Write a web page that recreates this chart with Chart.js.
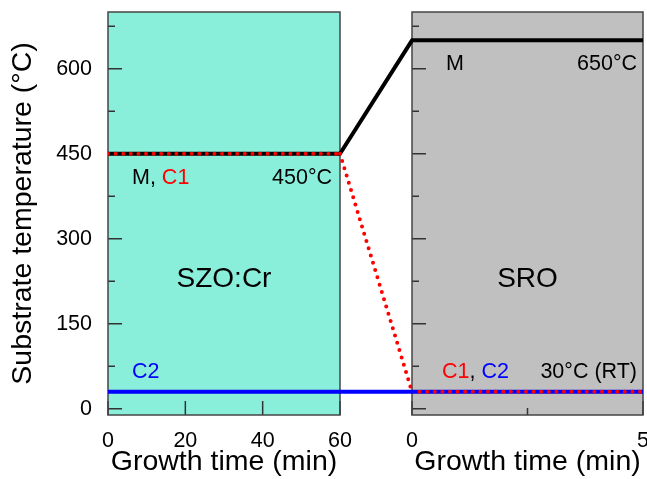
<!DOCTYPE html>
<html><head><meta charset="utf-8">
<script src="https://cdn.jsdelivr.net/npm/chart.js@4.4.1/dist/chart.umd.min.js"></script>
<style>
html,body{margin:0;padding:0;overflow:hidden;background:#fff;width:647px;height:479px;}
canvas{position:absolute;left:0;top:0;}
</style></head><body>
<canvas id="leftPanel" width="647" height="479" style="width:647px;height:479px"></canvas>
<canvas id="rightPanel" width="690" height="479" style="width:690px;height:479px"></canvas>
<script>
// ---- data ----
const leftTime = [0, 60];          // min, SZO:Cr growth
const rightTime = [0, 5];          // min, SRO growth
const leftM  = [450, 450];
const leftC1 = [450, 450];
const leftC2 = [30, 30];
const rightM  = [650, 650];
const rightC1 = [30, 30];
const rightC2 = [30, 30];
const yTicks = [0, 150, 300, 450, 600];
const leftXTicks = [0, 20, 40, 60];
const rightXTicks = [0, 5];
const yMin = -11, yMax = 700;

// ---- styles ----
const FONT = "'Liberation Sans', Arial, sans-serif";
Chart.defaults.font.family = FONT;
Chart.defaults.font.size = 20;
Chart.defaults.color = '#000';
const TICK_FONT = {family: FONT, size: 21.5, lineHeight: 1.2};
const TITLE_FONT = {family: FONT, size: 28.5, lineHeight: 1.2};
const ANNO = 21.5;
const styleM  = {borderColor:'#000000', borderWidth:4, borderDash:[], cap:'butt'};
const styleC1 = {borderColor:'#ff0000', borderWidth:4, borderDash:[0,7.6], cap:'round'};
const styleC2 = {borderColor:'#0000ff', borderWidth:4, borderDash:[], cap:'butt'};

function ds(label, xs, ys, st, order) {
  return {label, data: xs.map((x,i)=>({x, y: ys[i]})), borderColor: st.borderColor,
    borderWidth: st.borderWidth, borderDash: st.borderDash, borderCapStyle: st.cap,
    pointRadius: 0, fill: false, tension: 0, order};
}

function panelPlugin(cfg) {
  return {
    id: 'panel',
    beforeDraw(chart) {
      const {ctx, chartArea: a} = chart;
      ctx.save();
      ctx.fillStyle = cfg.bg;
      ctx.fillRect(a.left, a.top, a.right - a.left, a.bottom - a.top);
      ctx.restore();
    },
    beforeDatasetsDraw(chart) {
      const {ctx, chartArea: a, scales} = chart;
      ctx.save();
      ctx.strokeStyle = '#333';
      ctx.lineWidth = 1.5;
      ctx.beginPath();
      const ys = scales.y;
      const yStep = yTicks[1] - yTicks[0];
      yTicks.forEach(v => {
        const p = ys.getPixelForValue(v);
        ctx.moveTo(a.left, p); ctx.lineTo(a.left + 14, p);
        const m = v + yStep / 2;
        if (m <= yMax) { const q = ys.getPixelForValue(m); ctx.moveTo(a.left, q); ctx.lineTo(a.left + 7, q); }
      });
      const xs = scales.x;
      cfg.xTicks.forEach((v, i) => {
        const p = xs.getPixelForValue(v);
        ctx.moveTo(p, a.bottom); ctx.lineTo(p, a.bottom - 14);
        if (cfg.xMinor && i < cfg.xTicks.length - 1) {
          const q = xs.getPixelForValue((v + cfg.xTicks[i + 1]) / 2);
          ctx.moveTo(q, a.bottom); ctx.lineTo(q, a.bottom - 7);
        }
      });
      ctx.stroke();
      ctx.strokeStyle = '#444';
      ctx.strokeRect(a.left, a.top, a.right - a.left, a.bottom - a.top);
      ctx.restore();
    },
    afterDatasetsDraw(chart) {
      const {ctx, chartArea: a} = chart;
      ctx.save();
      ctx.textBaseline = 'alphabetic';
      cfg.texts.forEach(t => {
        ctx.font = t.size + 'px ' + FONT;
        const parts = t.parts;
        const total = parts.reduce((s, p) => s + ctx.measureText(p[0]).width, 0);
        let x = t.align === 'right' ? a.right - t.dx - total : t.align === 'center' ? (a.left + a.right) / 2 - total / 2 : a.left + t.dx;
        parts.forEach(p => {
          ctx.fillStyle = p[1];
          ctx.fillText(p[0], x, t.y);
          x += ctx.measureText(p[0]).width;
        });
      });
      ctx.restore();
    }
  };
}

function scalesFor(xMin, xMax, xTickVals, showY) {
  return {
    x: {
      type: 'linear', min: xMin, max: xMax,
      afterBuildTicks: s => { s.ticks = xTickVals.map(v => ({value: v})); },
      grid: {display: false, drawTicks: false}, border: {display: false},
      ticks: {color: '#000', font: TICK_FONT, padding: 13, maxRotation: 0, autoSkip: false},
      title: {display: true, text: 'Growth time (min)', color: '#000', font: TITLE_FONT, padding: {top: 0, bottom: 0}},
      afterFit: s => { s.height = 479 - 415; s.paddingLeft = 0; s.paddingRight = 0; }
    },
    y: {
      type: 'linear', min: yMin, max: yMax,
      afterBuildTicks: s => { s.ticks = yTicks.map(v => ({value: v})); },
      grid: {display: false, drawTicks: false}, border: {display: false},
      ticks: {display: showY, color: '#000', font: TICK_FONT, padding: 16},
      title: {display: showY, text: 'Substrate temperature (°C)', color: '#000', font: TITLE_FONT, padding: {top: 6, bottom: 0}},
      afterFit: s => { s.width = showY ? 108 : 0; s.paddingTop = 0; s.paddingBottom = 0; }
    }
  };
}

const common = {
  responsive: false, animation: false, devicePixelRatio: 1,
  plugins: {legend: {display: false}, tooltip: {enabled: false}}
};

const leftChart = new Chart(document.getElementById('leftPanel'), {
  type: 'line',
  data: {datasets: [
    ds('C1', leftTime, leftC1, styleC1, 0),
    ds('C2', leftTime, leftC2, styleC2, 1),
    ds('M', leftTime, leftM, styleM, 2)
  ]},
  options: Object.assign({}, common, {
    layout: {padding: {left: 0, top: 12, right: 647 - 340, bottom: 0}},
    scales: scalesFor(0, 60, leftXTicks, true)
  }),
  plugins: [panelPlugin({
    bg: '#89eeda', xTicks: leftXTicks, xMinor: false,
    texts: [
      {parts: [['M, ', '#000'], ['C1', '#ff0000']], size: ANNO, align: 'left', dx: 24, y: 184},
      {parts: [['450°C', '#000']], size: ANNO, align: 'right', dx: 8, y: 184},
      {parts: [['SZO:Cr', '#000']], size: 28, align: 'center', y: 287},
      {parts: [['C2', '#0000ff']], size: ANNO, align: 'left', dx: 24, y: 378}
    ]
  })]
});

const gapPlugin = {
  id: 'gap',
  afterDatasetsDraw(chart) {
    const {ctx} = chart;
    const lx = leftChart.scales.x, ly = leftChart.scales.y;
    const rx = chart.scales.x, ry = chart.scales.y;
    const links = [
      [leftM, rightM, styleM],
      [leftC2, rightC2, styleC2],
      [leftC1, rightC1, styleC1]
    ];
    ctx.save();
    links.forEach(([lv, rv, st]) => {
      ctx.beginPath();
      ctx.strokeStyle = st.borderColor;
      ctx.lineWidth = st.borderWidth;
      ctx.setLineDash(st.borderDash);
      ctx.lineCap = 'round';
      ctx.lineJoin = 'round';
      ctx.moveTo(lx.getPixelForValue(leftTime[leftTime.length - 1]), ly.getPixelForValue(lv[lv.length - 1]));
      ctx.lineTo(rx.getPixelForValue(rightTime[0]), ry.getPixelForValue(rv[0]));
      ctx.stroke();
    });
    ctx.restore();
  }
};

const rightChart = new Chart(document.getElementById('rightPanel'), {
  type: 'line',
  data: {datasets: [
    ds('C1', rightTime, rightC1, styleC1, 0),
    ds('C2', rightTime, rightC2, styleC2, 1),
    ds('M', rightTime, rightM, styleM, 2)
  ]},
  options: Object.assign({}, common, {
    layout: {padding: {left: 412, top: 12, right: 690 - 643, bottom: 0}},
    scales: scalesFor(0, 5, rightXTicks, false)
  }),
  plugins: [panelPlugin({
    bg: '#c0c0c0', xTicks: rightXTicks, xMinor: true,
    texts: [
      {parts: [['M', '#000']], size: ANNO, align: 'left', dx: 34, y: 70},
      {parts: [['650°C', '#000']], size: ANNO, align: 'right', dx: 6, y: 70},
      {parts: [['SRO', '#000']], size: 28, align: 'center', y: 287},
      {parts: [['C1', '#ff0000'], [', ', '#000'], ['C2', '#0000ff']], size: ANNO, align: 'left', dx: 30, y: 378},
      {parts: [['30°C (RT)', '#000']], size: ANNO, align: 'right', dx: 6, y: 378}
    ]
  }), gapPlugin]
});
</script>
</body></html>
